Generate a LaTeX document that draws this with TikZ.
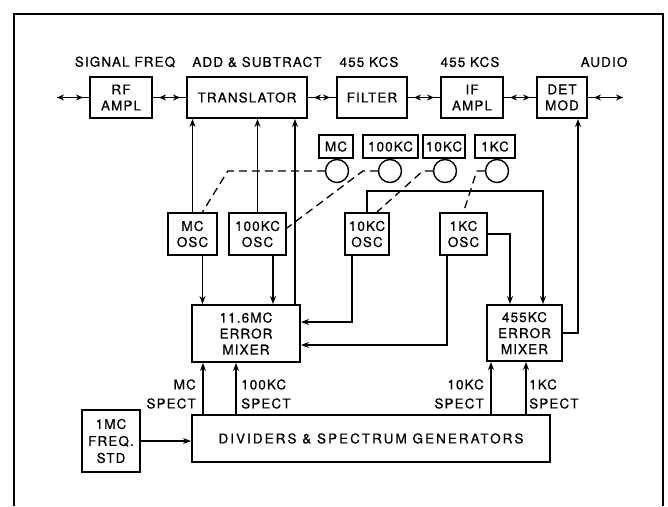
\documentclass[tikz,border=0pt]{standalone}
\usepackage{fontspec}
\setmainfont[LetterSpace=8,FakeBold=0.6]{TeX Gyre Heros}
\usetikzlibrary{arrows.meta}

\begin{document}
\begin{tikzpicture}[x=1pt,y=-1pt]
	\tikzstyle{block} = [draw=black, line width=2pt, inner sep=1pt, align=center, font=\fontsize{13.5}{16}\selectfont]
	\tikzstyle{dial} = [circle, draw=black, line width=1.4pt, minimum size=23pt, inner sep=0pt]
	\tikzstyle{caption} = [inner sep=0pt, align=center, font=\fontsize{13.5}{19}\selectfont]
	\tikzstyle{link} = [line width=1.2pt, -{Stealth[length=8pt,width=6pt]}]
	\tikzstyle{duplex} = [line width=1.2pt, {Stealth[length=7pt,width=6pt]}-{Stealth[length=7pt,width=6pt]}, shorten <=6pt, shorten >=6pt, postaction={draw, -, shorten <=0pt, shorten >=0pt}]
	\tikzstyle{gang} = [line width=1.3pt, dash pattern=on 8pt off 5pt]

	\useasboundingbox (0,0) rectangle (668,506);
	\draw[line width=1.3pt] (14,506) -- (14,14) -- (663,14) -- (663,506);

%------------------------------------------------------------
	\node[caption] (t_sig) at (125,62) {SIGNAL FREQ};
	\node[caption] (t_add) at (257,62) {ADD \& SUBTRACT};
	\node[caption] (t_flt) at (369,62) {455 KCS};
	\node[caption] (t_if) at (470,62) {455 KCS};
	\node[caption] (t_aud) at (604,62) {AUDIO};

	\node[block, minimum width=62pt, minimum height=41pt] (rf) at (121,97.5) {RF\\AMPL};
	\node[block, minimum width=120pt, minimum height=41pt] (trans) at (247,97.5) {TRANSLATOR};
	\node[block, minimum width=70pt, minimum height=41pt] (filter) at (372,97.5) {FILTER};
	\node[block, minimum width=62pt, minimum height=41pt] (ifamp) at (472,97.5) {IF\\AMPL};
	\node[block, minimum width=50pt, minimum height=41pt] (det) at (562,97.5) {DET\\MOD};

	\coordinate (rf_in) at (57,97.5);
	\coordinate (audio_out) at (623,97.5);

	\draw[duplex, shorten <=0pt] (rf_in) -- (rf.west);
	\draw[duplex] (rf.east) -- (trans.west);
	\draw[duplex] (trans.east) -- (filter.west);
	\draw[duplex] (filter.east) -- (ifamp.west);
	\draw[duplex] (ifamp.east) -- (det.west);
	\draw[duplex, shorten >=0pt] (det.east) -- (audio_out);

%------------------------------------------------------------

	\node[block, minimum width=34pt, minimum height=23pt] (tag_mc) at (336,146.5) {MC};
	\node[block, minimum width=55pt, minimum height=23pt] (tag_100k) at (390.5,146.5) {100KC};
	\node[block, minimum width=42pt, minimum height=23pt] (tag_10k) at (444,146.5) {10KC};
	\node[block, minimum width=40pt, minimum height=23pt] (tag_1k) at (495,146.5) {1KC};

	\node[dial] (dial_mc) at (337,171) {};
	\node[dial] (dial_100k) at (390,171) {};
	\node[dial] (dial_10k) at (445,171) {};
	\node[dial] (dial_1k) at (497,171) {};

%------------------------------------------------------------

	\node[block, minimum width=49pt, minimum height=42pt] (osc_mc) at (192.5,234) {MC\\OSC};
	\node[block, minimum width=57pt, minimum height=42pt] (osc_100k) at (257.5,234) {100KC\\OSC};
	\node[block, minimum width=44pt, minimum height=42pt] (osc_10k) at (367,234) {10KC\\OSC};
	\node[block, minimum width=47pt, minimum height=42pt] (osc_1k) at (463.5,234) {1KC\\OSC};

	\draw[gang] (dial_mc.west) -- ++(-97,0) -- ([xshift=10pt]osc_mc.north);
	\draw[gang] (dial_100k.west) -- ++(-15,0) -- ([yshift=6pt]osc_100k.east);
	\draw[gang] (dial_10k.west) -- ++(-10,0) -- ([xshift=10pt]osc_10k.north);
	\draw[gang] (dial_1k.west) -- ++(-8,0) -- (osc_1k.north);

%------------------------------------------------------------

	\node[block, minimum width=108pt, minimum height=57pt] (mix116) at (246,333.5) {11.6MC\\ERROR\\MIXER};
	\node[block, minimum width=75pt, minimum height=56pt] (mix455) at (524.5,333) {455KC\\ERROR\\MIXER};

	\coordinate (fb_116) at ([xshift=49pt]mix116.north);
	\coordinate (mc_out) at ([xshift=10pt]osc_mc.south);
	\coordinate (k100_out) at ([xshift=15.5pt]osc_100k.south);
	\coordinate (k10_out) at ([xshift=-15pt]osc_10k.south);
	\coordinate (k1_out) at ([xshift=-16.5pt]osc_1k.south);

	\draw[link] (osc_mc.north) -- (osc_mc.north |- trans.south);
	\draw[link] (osc_100k.north) -- (osc_100k.north |- trans.south);
	\draw[link] (fb_116) -- (fb_116 |- trans.south);
	\draw[link] (mc_out) -- (mc_out |- mix116.north);
	\draw[link] (k100_out) -- (k100_out |- mix116.north);
	\draw[link] (k10_out) |- ([yshift=11.5pt]mix116.east);
	\draw[link] (k1_out) |- ([yshift=-11.5pt]mix116.east);
	\draw[link] (osc_10k.north) -- ++(0,-21) -| ([xshift=18.5pt]mix455.north);
	\draw[link] (osc_1k.east) -| ([xshift=-14.5pt]mix455.north);
	\draw[link] (mix455.east) -| ([xshift=16pt]det.south);

%------------------------------------------------------------

	\node[block, minimum width=358pt, minimum height=47pt, font=\fontsize{13.5}{16}\selectfont\addfontfeature{LetterSpace=15}] (div) at (371,438.5) {DIVIDERS \& SPECTRUM GENERATORS};
	\node[block, minimum width=58pt, minimum height=62pt, font=\fontsize{13.5}{17}\selectfont] (std) at (111,441) {1MC\\FREQ.\\STD};

	\coordinate (sp_mc) at (203,415);
	\coordinate (sp_100k) at (236,415);
	\coordinate (sp_10k) at (491,415);
	\coordinate (sp_1k) at (526,415);

	\draw[link] (sp_mc) -- (sp_mc |- mix116.south);
	\draw[link] (sp_100k) -- (sp_100k |- mix116.south);
	\draw[link] (sp_10k) -- (sp_10k |- mix455.south);
	\draw[link] (sp_1k) -- (sp_1k |- mix455.south);
	\draw[link] (std.east) -- (std.east -| div.west);

	\node[caption, anchor=east, align=right] (l_mc) at (196,394) {MC\\SPECT};
	\node[caption, anchor=west, align=left] (l_100k) at (241,394) {100KC\\SPECT};
	\node[caption, anchor=east, align=right] (l_10k) at (484,394) {10KC\\SPECT};
	\node[caption, anchor=west, align=left] (l_1k) at (529,394) {1KC\\SPECT};

\end{tikzpicture}
\end{document}
